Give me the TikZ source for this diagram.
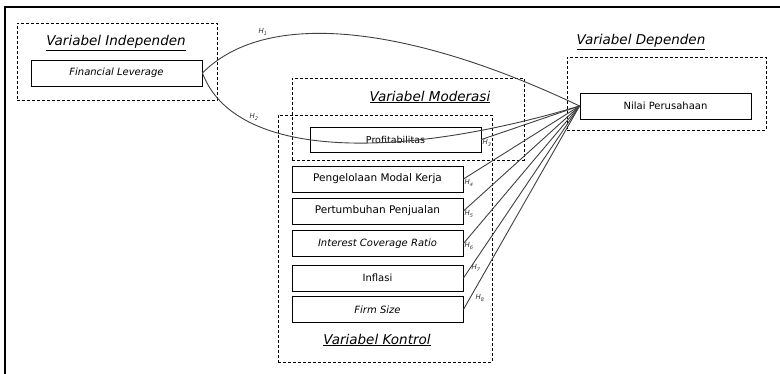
\documentclass[tikz,border=0pt]{standalone}
\usepackage{fontspec}
\setmainfont{DejaVu Sans}
\begin{document}
\begin{tikzpicture}[x=1pt,y=-1pt,
  box/.style={draw=black,line width=0.9pt,minimum width=171pt,minimum height=26pt,inner sep=0pt,font=\fontsize{10}{12}\selectfont},
  group/.style={draw=black,densely dashed,line width=0.8pt,inner sep=0pt},
  title/.style={font=\fontsize{13.5}{15}\selectfont\itshape,inner sep=0pt},
  conn/.style={draw=black!75,line width=0.9pt},
  hlab/.style={font=\fontsize{7}{8}\selectfont\itshape,inner sep=0pt,text=black!80}]
\useasboundingbox (0,0) rectangle (780,374);
\coordinate (bl) at (5,374);
\coordinate (tl) at (5,7);
\coordinate (tr) at (780,7);
\draw[line width=1.6pt] (bl) -- (tl) -- (tr);
% group boxes
\node[group,minimum width=200pt,minimum height=77pt] (ind) at (117,61.5) {};
\node[group,minimum width=199pt,minimum height=73pt] (dep) at (666.5,93.5) {};
\node[group,minimum width=232pt,minimum height=82pt] (mod) at (408,119) {};
\node[group,minimum width=214pt,minimum height=247pt] (kon) at (385,238.5) {};
% titles
\node[title] (tind) at (116,43) {\underline{Variabel Independen}};
\node[title] (tdep) at (641,42) {\underline{Variabel Dependen}};
\node[title] (tmod) at (430,97) {\underline{Variabel Moderasi}};
\node[title] (tkon) at (377,340) {\underline{Variabel Kontrol}};
% boxes
\node[box,fill=white] (fl) at (116.5,73) {\itshape Financial Leverage};
\node[box,fill=white] (nilai) at (665.5,106) {Nilai Perusahaan};
\node[box,minimum height=25pt,font=\fontsize{9.5}{11}\selectfont] (prof) at (395.5,139.5) {Profitabilitas};
\node[box,font=\fontsize{10.5}{12}\selectfont] (pmk) at (377.5,179) {Pengelolaan Modal Kerja};
\node[box,font=\fontsize{10.5}{12}\selectfont] (pp) at (377.5,211) {Pertumbuhan Penjualan};
\node[box] (icr) at (377.5,243.5) {\itshape Interest Coverage Ratio};
\node[box] (inf) at (377.5,278) {Inflasi};
\node[box] (fs) at (377.5,309.5) {\itshape Firm Size};
% connectors
\draw[conn] (fl.east) .. controls (270,5) and (420,30) .. (nilai.west);
\draw[conn] (fl.east) .. controls (235,160) and (400,160) .. (nilai.west);
\draw[conn] (prof.east) -- (nilai.west);
\draw[conn] (pmk.east) -- (nilai.west);
\draw[conn] (pp.east) -- (nilai.west);
\draw[conn] (icr.east) -- (nilai.west);
\draw[conn] (inf.east) -- (nilai.west);
\draw[conn] (fs.east) -- (nilai.west);
% labels
\node[hlab] (h1) at (263,32) {H\textsubscript{1}};
\node[hlab] (h2) at (254,117) {H\textsubscript{2}};
\node[hlab] (h3) at (487,143) {H\textsubscript{3}};
\node[hlab] (h4) at (469,183) {H\textsubscript{4}};
\node[hlab] (h5) at (469,214) {H\textsubscript{5}};
\node[hlab] (h6) at (469,246) {H\textsubscript{6}};
\node[hlab] (h7) at (476,268) {H\textsubscript{7}};
\node[hlab] (h8) at (480,298) {H\textsubscript{8}};
\end{tikzpicture}
\end{document}
